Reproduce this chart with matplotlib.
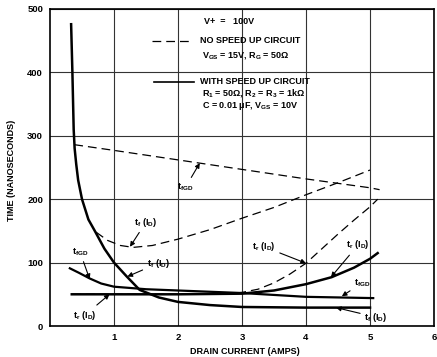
import matplotlib
matplotlib.use('Agg')
import matplotlib.pyplot as plt

plt.rcParams['font.family'] = ['Liberation Sans', 'DejaVu Sans']
plt.rcParams['font.weight'] = 'bold'
plt.rcParams['mathtext.fontset'] = 'custom'
plt.rcParams['mathtext.rm'] = 'Liberation Sans:bold'
plt.rcParams['mathtext.it'] = 'Liberation Sans:bold'
plt.rcParams['mathtext.default'] = 'rm'

# with speed up circuit (solid)
tf_x = [0.33, 0.35, 0.37, 0.385, 0.41, 0.44, 0.50, 0.60, 0.70, 0.85, 1.0, 1.2, 1.4, 1.7, 2.0, 2.5, 3.0, 4.0, 5.0]
tf_y = [476, 400, 310, 280, 255, 230, 200, 168, 150, 122, 100, 78, 57, 45, 38, 33, 30, 29, 29]
tfgd_x = [0.31, 0.45, 0.62, 0.8, 1.0, 1.5, 2.0, 2.5, 3.0, 4.0, 5.05]
tfgd_y = [91, 84, 75, 67, 62, 58, 56, 54, 52, 46, 44]
tr_x = [0.34, 1.0, 2.0, 3.0, 3.5, 4.0, 4.4, 4.75, 5.0, 5.12]
tr_y = [50, 50, 50, 51, 56, 66, 77, 92, 106, 115]

# no speed up circuit (dashed)
tfgd_d_x = [0.38, 1.0, 2.0, 3.0, 4.0, 5.0, 5.15]
tfgd_d_y = [286, 277, 262, 247, 232, 218, 215]
tf_d_x = [0.72, 0.9, 1.1, 1.3, 1.6, 2.0, 2.5, 3.0, 3.5, 4.0, 4.5, 5.0]
tf_d_y = [148, 135, 127, 124, 127, 137, 152, 170, 187, 207, 226, 246]
tr_d_x = [0.35, 1.0, 2.0, 2.8, 3.0, 3.25, 3.5, 3.75, 4.0, 4.25, 4.5, 4.75, 5.0, 5.12]
tr_d_y = [50, 50, 50, 51, 53, 58, 68, 82, 99, 122, 145, 167, 188, 200]

fig = plt.figure(figsize=(4.37, 3.57), dpi=100)
ax = fig.add_axes([50/437, 31/357, 384/437, 317/357])

dash = (0, (7, 4))
ax.plot(tf_x, tf_y, color='black', lw=1.8)
ax.plot(tfgd_x, tfgd_y, color='black', lw=1.6)
ax.plot(tr_x, tr_y, color='black', lw=1.8)
ax.plot(tfgd_d_x, tfgd_d_y, color='black', lw=0.9, linestyle=dash)
ax.plot(tf_d_x, tf_d_y, color='black', lw=0.9, linestyle=dash)
ax.plot(tr_d_x, tr_d_y, color='black', lw=0.9, linestyle=dash)

ax.set_xlim(0, 6)
ax.set_ylim(0, 500)
ax.set_xticks([1, 2, 3, 4, 5, 6])
ax.set_yticks([0, 100, 200, 300, 400, 500])
ax.grid(True, color='#333333', lw=0.8)
ax.tick_params(length=0, labelsize=6.8, pad=5)
for s in ax.spines.values():
    s.set_linewidth(1.2)

fs = 6.5
# legend block
ax.text(2.40, 481, 'V+  =   100V', fontsize=fs, va='center')
ax.plot([1.60, 2.23], [450, 450], color='black', lw=0.9, linestyle=dash)
ax.text(2.34, 450, 'NO SPEED UP CIRCUIT', fontsize=fs, va='center')
ax.text(2.38, 427, r'$V_{GS}$ = 15V, $R_G$ = 50Ω', fontsize=fs, va='center')
ax.plot([1.63, 2.25], [385, 385], color='black', lw=1.2)
ax.text(2.34, 385, 'WITH SPEED UP CIRCUIT', fontsize=fs, va='center')
ax.text(2.38, 367, r'$R_1$ = 50Ω, $R_2$ = $R_3$ = 1kΩ', fontsize=fs, va='center')
ax.text(2.38, 347, r'C = 0.01 μF, $V_{GS}$ = 10V', fontsize=fs, va='center')

arrow = dict(arrowstyle='-|>', color='black', lw=0.8, mutation_scale=7, shrinkA=1, shrinkB=0)
labels = [
    (r'$t_{fGD}$', (1.99, 219), (2.34, 257)),
    (r'$t_f\ (I_D)$', (1.32, 164), (1.25, 125)),
    (r'$t_{fGD}$', (0.34, 117), (0.62, 74)),
    (r'$t_f\ (I_D)$', (1.51, 99), (1.21, 78)),
    (r'$t_r\ (I_D)$', (0.36, 17), (0.93, 50)),
    (r'$t_r\ (I_D)$', (3.16, 125), (4.0, 99)),
    (r'$t_r\ (I_D)$', (4.63, 128), (4.39, 77)),
    (r'$t_{fGD}$', (4.75, 68), (4.56, 47)),
    (r'$t_f\ (I_D)$', (4.91, 14), (4.47, 29)),
]
for txt, pos, tip in labels:
    ax.annotate(txt, xy=tip, xytext=pos, fontsize=fs, va='center', ha='left',
                arrowprops=arrow)

fig.text(245/437, 1 - 352/357, 'DRAIN CURRENT (AMPS)', fontsize=6.5, ha='center', va='center')
fig.text(12/437, 1 - 170/357, 'TIME (NANOSECONDS)', fontsize=6.5, ha='center', va='center', rotation=90)

fig.savefig('out.png', dpi=100)
